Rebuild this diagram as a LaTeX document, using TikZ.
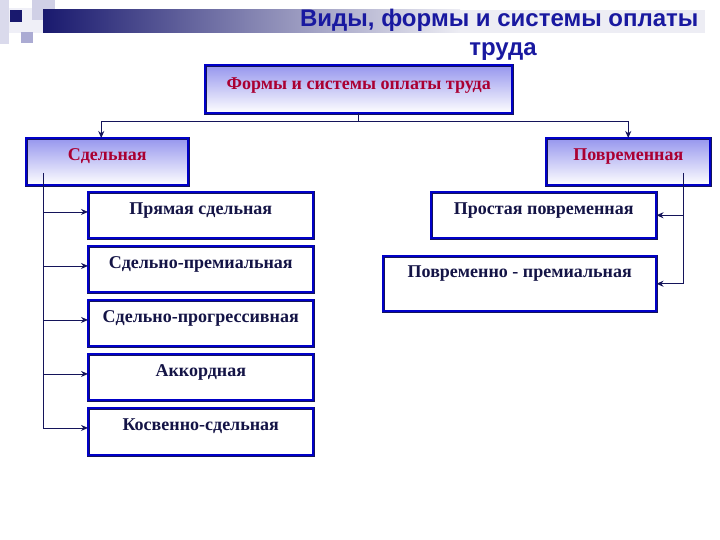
\documentclass[tikz,border=0pt]{standalone}
\usepackage{fontspec}
\usetikzlibrary{arrows.meta}
\setmainfont{Liberation Serif}
\newfontfamily\headfont{Liberation Sans}
\definecolor{navy}{RGB}{20,20,90}
\definecolor{boxblue}{RGB}{0,0,200}
\definecolor{shadeblue}{RGB}{150,150,238}
\definecolor{crimson}{RGB}{170,0,50}
\definecolor{textnavy}{RGB}{20,20,70}
\definecolor{titleblue}{RGB}{25,25,160}
\definecolor{barnavy}{RGB}{25,25,110}
\definecolor{lav}{RGB}{150,150,200}
\tikzset{
  lvl/.style={draw=navy, double=boxblue, double distance=2pt, line width=0.5pt,
    fill=white, anchor=north west, inner xsep=0pt, inner ysep=0pt,
    text height=22pt, text depth=25pt, text=textnavy,
    font=\bfseries\fontsize{18}{20}\selectfont},
  headbox/.style={lvl, top color=shadeblue, bottom color=white, text=crimson},
  link/.style={->, draw=navy, line width=0.9pt},
  titletext/.style={text=titleblue, font=\headfont\bfseries\fontsize{24}{28}\selectfont}
}
\begin{document}
\begin{tikzpicture}[>={Stealth[length=7pt,width=6pt]}, x=1pt, y=-1pt]
  \useasboundingbox (0,0) rectangle (720,540);
  % Decoracion superior
  \fill[lav!35] (0,0) rectangle (9,44);
  \fill[lav!15] (9,8) rectangle (43,33);
  \fill[lav!45] (32,0) rectangle (55,20);
  \fill[lav!80] (21,32) rectangle (33,43);
  \fill[barnavy] (10,10) rectangle (22,22);
  \shade[left color=barnavy, right color=barnavy!8] (43,10) rectangle (460,33);
  \fill[barnavy!8] (460,10) rectangle (705,33);

  % Titulo
  \node[titletext, anchor=base east] (ttl) at (702,27)
        {Виды, формы и системы оплаты};
  \node[titletext, anchor=base] (ttl2) at (503,56) {труда};

  % Cajas
  \node[headbox, minimum width=307pt, text height=24pt, text depth=24pt] (hdr) at (205,65)
        {Формы и системы оплаты труда};
  \node[headbox, minimum width=162pt] (sd) at (26,138) {Сдельная};
  \node[headbox, minimum width=164pt] (pv) at (546,138) {Повременная};

  \node[lvl, minimum width=225pt, text depth=24pt] (sd1) at (88,192) {Прямая сдельная};
  \node[lvl, minimum width=225pt, text depth=24pt] (sd2) at (88,246) {Сдельно-премиальная};
  \node[lvl, minimum width=225pt, text depth=24pt] (sd3) at (88,300) {Сдельно-прогрессивная};
  \node[lvl, minimum width=225pt, text depth=24pt] (sd4) at (88,354) {Аккордная};
  \node[lvl, minimum width=225pt] (sd5) at (88,408) {Косвенно-сдельная};

  \node[lvl, minimum width=225pt, text depth=24pt] (pv1) at (431,192) {Простая повременная};
  \node[lvl, minimum width=273pt, text height=21pt, text depth=34pt] (pv2) at (383,256)
        {Повременно - премиальная};

  % Conectores
  \draw[link] (hdr.south) -- ++(0,8) -| ([xshift=-6pt]sd.north);
  \draw[link] (hdr.south) -- ++(0,8) -| (pv.north);

  \coordinate (sdtrunk) at (43,173);
  \draw[link] (sdtrunk) |- (sd5.mid west);
  \foreach \n in {sd1,sd2,sd3,sd4}
    \draw[link] (sdtrunk |- \n.mid west) -- (\n.mid west);

  \coordinate (pvtrunk) at (683,173);
  \draw[link] (pvtrunk) |- (pv2.east);
  \draw[link] (pvtrunk |- pv1.east) -- (pv1.east);
\end{tikzpicture}
\end{document}
